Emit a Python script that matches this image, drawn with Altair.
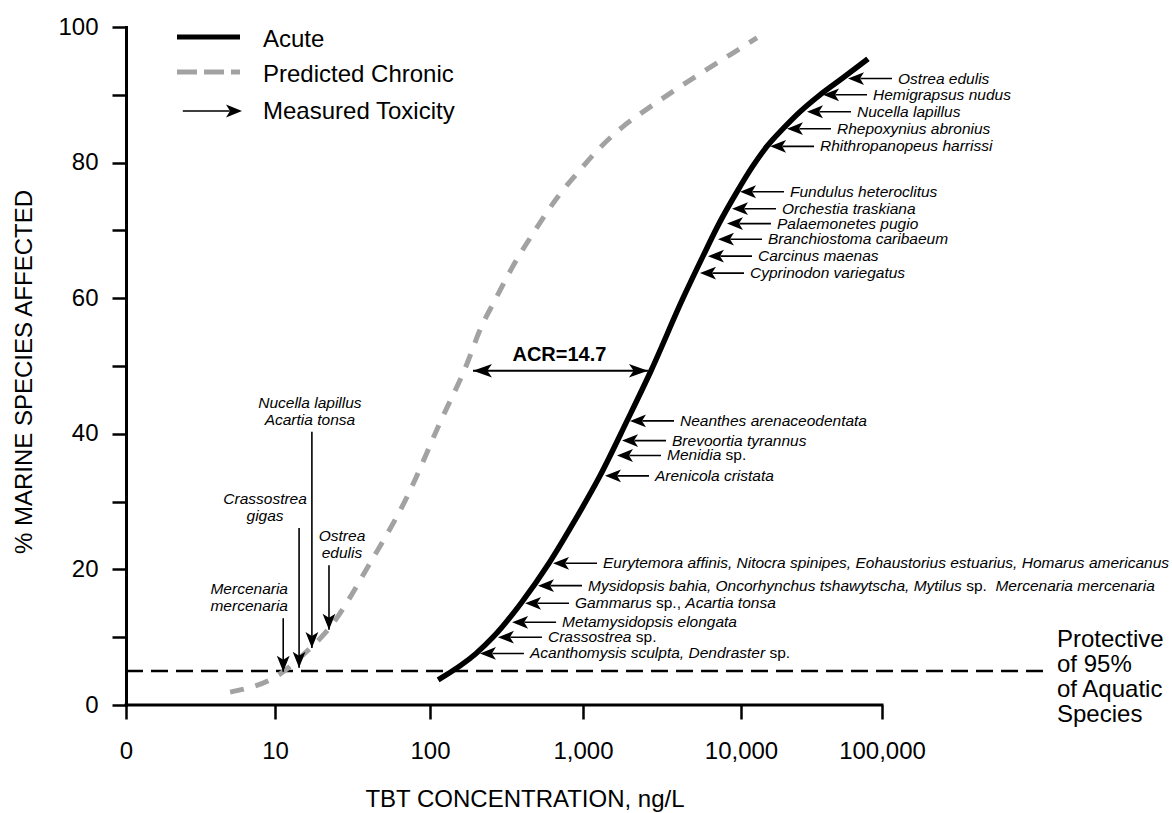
import re
import altair as alt
import pandas as pd

# ---------------------------------------------------------------- data
x_tick_values = [1, 10, 100, 1000, 10000, 100000]
x_tick_labels = ["0", "10", "100", "1,000", "10,000", "100,000"]
y_tick_values = [0, 10, 20, 30, 40, 50, 60, 70, 80, 90, 100]
y_tick_labels = ["0", "", "20", "", "40", "", "60", "", "80", "", "100"]

x_title = "TBT CONCENTRATION, ng/L"
y_title = "% MARINE SPECIES AFFECTED"

acute_conc = [113, 200, 258, 393, 599, 873, 1281, 1899, 2694, 4295, 5747, 7258, 9434,
              11970, 15290, 19860, 26210, 36340, 52040, 79560]
acute_pct = [3.7, 7.6, 10, 15, 20.9, 27, 33.8, 41.9, 49.3, 60, 66.2, 71, 75.7,
             79.3, 82.4, 85, 87.5, 90, 92.4, 95.3]

chronic_conc = [5.0, 11.3, 14.5, 22.7, 41.0, 71.1, 116, 175, 212, 270, 354, 486,
                687, 955, 1281, 1766, 2578, 3822, 5665, 8520, 12990]
chronic_pct = [1.9, 4.9, 7, 11.5, 20.9, 30.7, 41.6, 50.4, 55.3, 60, 65, 70,
               75, 78.9, 82.2, 85.2, 88, 90.7, 93.3, 95.9, 98.4]

# species whose measured acute toxicity is marked on the acute curve
# (_..._ = italic part of the name)
acute_species = [
    "_Ostrea edulis_", "_Hemigrapsus nudus_", "_Nucella lapillus_",
    "_Rhepoxynius abronius_", "_Rhithropanopeus harrissi_",
    "_Fundulus heteroclitus_", "_Orchestia traskiana_", "_Palaemonetes pugio_",
    "_Branchiostoma caribaeum_", "_Carcinus maenas_", "_Cyprinodon variegatus_",
    "_Neanthes arenaceodentata_", "_Brevoortia tyrannus_", "_Menidia_ sp.",
    "_Arenicola cristata_",
    "_Eurytemora affinis, Nitocra spinipes, Eohaustorius estuarius, Homarus americanus_",
    "_Mysidopsis bahia, Oncorhynchus tshawytscha, Mytilus_ sp.  _Mercenaria mercenaria_",
    "_Gammarus_ sp., _Acartia tonsa_", "_Metamysidopsis elongata_",
    "_Crassostrea_ sp.", "_Acanthomysis sculpta, Dendraster_ sp.",
]
acute_species_conc = [57410, 38180, 29380, 21180, 16070, 9860, 8770, 8150, 7150,
                      6180, 5500, 1983, 1766, 1641, 1378, 637, 508, 418, 344, 278, 212]
acute_species_pct = [92.4, 90, 87.5, 85, 82.4, 75.7, 73.2, 71, 68.7, 66.2, 63.7,
                     41.9, 39, 36.8, 33.8, 20.9, 17.6, 15, 12.2, 10, 7.6]

# species whose measured chronic toxicity is marked on the chronic curve
chronic_species = [["Mercenaria", "mercenaria"], ["Crassostrea", "gigas"],
                   ["Nucella lapillus", "Acartia tonsa"], ["Ostrea", "edulis"]]
chronic_species_conc = [11.3, 14.3, 17.3, 22.3]
chronic_species_pct = [4.9, 5.5, 8.4, 11.1]
chronic_arrow_top_pct = [12.8, 26.1, 40.3, 20.6]

acr_label = "ACR=14.7"
acr_from = 191
acr_to = 2576
acr_pct = 49.3

protective_level = 5
protective_end = 1000000
protective_lines = ["Protective", "of 95%", "of Aquatic", "Species"]

legend_labels = ["Acute", "Predicted Chronic", "Measured Toxicity"]

# ---------------------------------------------------------------- layout / style
FONT = "Liberation Sans"
SP_FS = 15.5            # species label font size
LABEL_DX = 50           # species label offset from arrow tip (px)
CHRONIC_LABEL_DX = [-34, -34, -2, 13]
SP_LH = 17
GRAY = "#a2a2a2"

X_DOMAIN = [1, 10, 100, 1000, 10000, 100000, 1000000]
X_RANGE = [0, 149, 304, 457, 615, 756, 917]
XSCALE = alt.Scale(type="log", domain=X_DOMAIN, range=X_RANGE, nice=False)
YSCALE = alt.Scale(domain=[0, 100], nice=False, zero=True)

HEAD_LEFT = "M0,0 L1,-0.4 L0.75,0 L1,0.4 Z"
ARROW_LEFT = HEAD_LEFT + " M0.78,-0.05 L2.75,-0.05 L2.75,0.05 L0.78,0.05 Z"
ARROW_RIGHT_LONG = "M0,0 L-1,-0.4 L-0.75,0 L-1,0.4 Z M-0.78,-0.05 L-3.7,-0.05 L-3.7,0.05 L-0.78,0.05 Z"
HEAD_DOWN = "M0,0 L-0.4,-1 L0,-0.75 L0.4,-1 Z"
ACR_LEFT = "M0,0 L1,-0.35 L0.75,0 L1,0.35 Z"
ACR_RIGHT = "M0,0 L-1,-0.35 L-0.75,0 L-1,0.35 Z"


def expr_map(values, labels):
    e = "''"
    for v, l in reversed(list(zip(values, labels))):
        e = f"datum.value == {v} ? '{l}' : ({e})"
    return e


X_AXIS = alt.Axis(values=x_tick_values, labelExpr=expr_map(x_tick_values, x_tick_labels),
                  domain=False, ticks=True, tickSize=14, tickWidth=2.5, tickColor="black",
                  labelFont=FONT, labelFontSize=24, labelColor="black", labelPadding=20,
                  labelFlush=False, labelOverlap=False, grid=False, title=None)
Y_AXIS = alt.Axis(values=y_tick_values, labelExpr=expr_map(y_tick_values, y_tick_labels),
                  domain=True, domainWidth=3, domainColor="black", domainCap="square",
                  ticks=True, tickSize=14, tickWidth=2.5, tickColor="black",
                  labelFont=FONT, labelFontSize=24, labelColor="black", labelPadding=14,
                  labelOverlap=False, grid=False, title=None)


def X(field):
    return alt.X(field, type="quantitative", scale=XSCALE, axis=X_AXIS)


def Y(field):
    return alt.Y(field, type="quantitative", scale=YSCALE, axis=Y_AXIS)


# Arial / Liberation Sans advance widths (1/1000 em)
W = {' ': 278, ',': 278, '.': 278, '%': 889}
for c in "abdeghnopqu":
    W[c] = 556
for c in "ckszvxy":
    W[c] = 500
W.update({'f': 278, 't': 278, 'i': 222, 'j': 222, 'l': 222, 'r': 333, 'm': 833, 'w': 722})
W.update({'A': 667, 'B': 667, 'C': 722, 'D': 722, 'E': 667, 'F': 611, 'G': 778, 'H': 722,
          'I': 278, 'M': 833, 'N': 722, 'O': 778, 'P': 667, 'R': 722, 'S': 667, 'T': 611})


def tw(s, size):
    return sum(W.get(c, 556) for c in s) * size / 1000.0


def segments(markup):
    parts = re.split(r"(_[^_]*_)", markup)
    out, pos = [], 0.0
    for p in parts:
        if not p:
            continue
        ital = len(p) >= 2 and p.startswith("_") and p.endswith("_")
        t = p[1:-1] if ital else p
        lead = len(t) - len(t.lstrip(" "))
        if t.strip():
            out.append((t.strip(), ital, pos + tw(t[:lead], SP_FS)))
        pos += tw(t, SP_FS)
    return out


# ---------------------------------------------------------------- frames
acute_df = pd.DataFrame({"conc": acute_conc, "pct": acute_pct})
chronic_df = pd.DataFrame({"conc": chronic_conc, "pct": chronic_pct})
sp_df = pd.DataFrame({"conc": acute_species_conc, "pct": acute_species_pct})

seg_rows = []
for i, name in enumerate(acute_species):
    for t, ital, off in segments(name):
        seg_rows.append({"sid": len(seg_rows), "conc": acute_species_conc[i],
                         "pct": acute_species_pct[i], "t": t, "ital": ital, "off": off})
seg_df = pd.DataFrame(seg_rows)

chr_df = pd.DataFrame({"i": list(range(len(chronic_species))),
                       "conc": chronic_species_conc, "pct": chronic_species_pct,
                       "top": chronic_arrow_top_pct})

axis_df = pd.DataFrame({"x0": [x_tick_values[0]], "x1": [x_tick_values[-1]], "y": [0]})
prot_df = pd.DataFrame({"x0": [x_tick_values[0]], "x1": [protective_end], "y": [protective_level]})
acr_df = pd.DataFrame({"x0": [acr_from], "x1": [acr_to], "y": [acr_pct]})
one = pd.DataFrame({"k": [0]})

layers = []

# x axis line (y axis line is the axis domain)
layers.append(alt.Chart(axis_df).mark_rule(color="black", strokeWidth=3, strokeCap="square")
              .encode(x=X("x0"), x2="x1", y=Y("y")))

# protective level dashed line
layers.append(alt.Chart(prot_df).mark_rule(color="black", strokeWidth=2.5, strokeDash=[17, 8])
              .encode(x=X("x0"), x2="x1", y=Y("y")))

# curves
layers.append(alt.Chart(chronic_df).mark_line(color=GRAY, strokeWidth=5, strokeDash=[14, 12],
                                              interpolate="monotone")
              .encode(x=X("conc"), y=Y("pct")))
layers.append(alt.Chart(acute_df).mark_line(color="black", strokeWidth=5.5, interpolate="monotone",
                                            strokeCap="butt")
              .encode(x=X("conc"), y=Y("pct")))

# measured toxicity arrows on acute curve
layers.append(alt.Chart(sp_df).mark_point(shape=ARROW_LEFT, size=1024, filled=True, color="black",
                                          opacity=1, strokeWidth=0)
              .encode(x=X("conc"), y=Y("pct")))

# species labels (italic + roman parts)
layers.append(alt.Chart(seg_df).transform_filter("datum.off == 0")
              .mark_text(align="left", baseline="middle", dx=LABEL_DX, font=FONT, fontSize=SP_FS,
                         fontStyle="italic", color="black")
              .encode(x=X("conc"), y=Y("pct"), text="t:N"))
for r in seg_rows:
    if r["off"] == 0:
        continue
    layers.append(alt.Chart(seg_df).transform_filter(f"datum.sid == {r['sid']}")
                  .mark_text(align="left", baseline="middle", dx=LABEL_DX + r["off"], font=FONT,
                             fontSize=SP_FS, fontStyle="italic" if r["ital"] else "normal",
                             color="black")
                  .encode(x=X("conc"), y=Y("pct"), text="t:N"))

# chronic species arrows + labels
layers.append(alt.Chart(chr_df).mark_rule(color="black", strokeWidth=1.6)
              .encode(x=X("conc"), y=Y("pct"), y2="top"))
layers.append(alt.Chart(chr_df).mark_point(shape=HEAD_DOWN, size=1024, filled=True, color="black",
                                           opacity=1, strokeWidth=0)
              .encode(x=X("conc"), y=Y("pct")))
for i, lines in enumerate(chronic_species):
    layers.append(alt.Chart(chr_df).transform_filter(f"datum.i == {i}")
                  .mark_text(text=lines, align="center", baseline="bottom", dx=CHRONIC_LABEL_DX[i],
                             dy=-2 - (SP_LH + 2) * (len(lines) - 1), lineHeight=SP_LH, font=FONT,
                             fontSize=SP_FS, fontStyle="italic", color="black")
                  .encode(x=X("conc"), y=Y("top")))

# ACR double arrow
layers.append(alt.Chart(acr_df).mark_rule(color="black", strokeWidth=2)
              .encode(x=X("x0"), x2="x1", y=Y("y")))
layers.append(alt.Chart(acr_df).mark_point(shape=ACR_LEFT, size=1444, filled=True, color="black",
                                           opacity=1, strokeWidth=0)
              .encode(x=X("x0"), y=Y("y")))
layers.append(alt.Chart(acr_df).mark_point(shape=ACR_RIGHT, size=1444, filled=True, color="black",
                                           opacity=1, strokeWidth=0)
              .encode(x=X("x1"), y=Y("y")))
layers.append(alt.Chart(acr_df).transform_calculate(xm="sqrt(datum.x0 * datum.x1)")
              .mark_text(text=acr_label, align="center", baseline="middle", dy=-16, font=FONT,
                         fontSize=20, fontWeight="bold", color="black")
              .encode(x=X("xm:Q"), y=Y("y")))

# protective label
layers.append(alt.Chart(prot_df)
              .mark_text(text=protective_lines, align="left", baseline="middle", dy=-31,
                         lineHeight=25, font=FONT, fontSize=24, color="black")
              .encode(x=alt.value(931), y=Y("y")))

# axis titles
layers.append(alt.Chart(one).mark_text(text=x_title, align="center", baseline="middle", font=FONT,
                                       fontSize=24, color="black")
              .encode(x=alt.value(399), y=alt.value(773)))
layers.append(alt.Chart(one).mark_text(text=y_title, align="center", baseline="middle", angle=270,
                                       font=FONT, fontSize=24, color="black")
              .encode(x=alt.value(-101), y=alt.value(345)))

# legend
layers.append(alt.Chart(one).mark_rule(color="black", strokeWidth=5)
              .encode(x=alt.value(51), x2=alt.value(114), y=alt.value(10)))
layers.append(alt.Chart(one).mark_rule(color=GRAY, strokeWidth=5, strokeDash=[20, 7])
              .encode(x=alt.value(51), x2=alt.value(114), y=alt.value(45)))
layers.append(alt.Chart(one).mark_point(shape=ARROW_RIGHT_LONG, size=1024, filled=True,
                                        color="black", opacity=1, strokeWidth=0)
              .encode(x=alt.value(116), y=alt.value(84)))
for lbl, yy in zip(legend_labels, [13, 48, 85]):
    layers.append(alt.Chart(one).mark_text(text=lbl, align="left", baseline="middle", font=FONT,
                                           fontSize=24, color="black")
                  .encode(x=alt.value(137), y=alt.value(yy)))

chart = alt.layer(*layers).properties(
    width=1046, height=678,
    padding={"left": 126, "top": 27, "right": 0, "bottom": 108},
    autosize=alt.AutoSizeParams(type="none"),
    background="white",
).configure_view(stroke=None)

chart.save("out.html", embed_options={"renderer": "svg", "actions": False})
